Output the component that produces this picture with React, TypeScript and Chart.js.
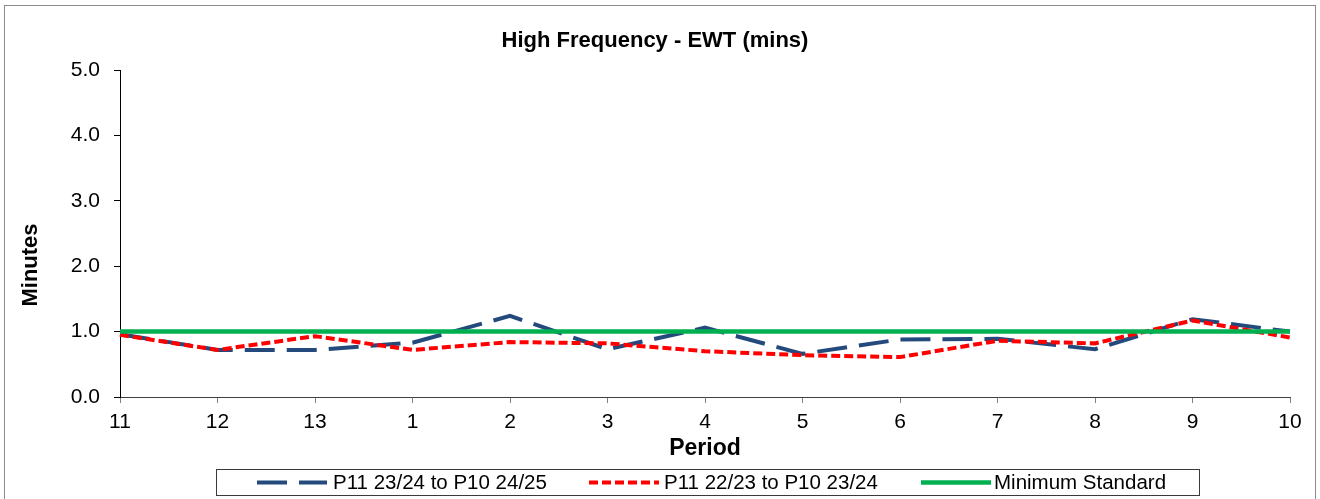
import { useEffect, useRef } from 'react';
import { Chart, registerables } from 'chart.js';

Chart.register(...registerables);

const periods = ['11', '12', '13', '1', '2', '3', '4', '5', '6', '7', '8', '9', '10'];
const current = [0.96, 0.72, 0.72, 0.83, 1.24, 0.73, 1.06, 0.66, 0.88, 0.89, 0.73, 1.19, 1.0];
const previous = [0.95, 0.72, 0.93, 0.72, 0.84, 0.82, 0.7, 0.64, 0.61, 0.86, 0.82, 1.17, 0.91];
const minStandard = [1.0, 1.0, 1.0, 1.0, 1.0, 1.0, 1.0, 1.0, 1.0, 1.0, 1.0, 1.0, 1.0];

const seriesNames = ['P11 23/24 to P10 24/25', 'P11 22/23 to P10 23/24', 'Minimum Standard'];
const chartTitle = 'High Frequency - EWT (mins)';
const yTitle = 'Minutes';
const xTitle = 'Period';

const FONT = '"Liberation Sans", Arial, sans-serif';
const BLUE = '#244a7d';
const RED = '#ff0000';
const GREEN = '#00b050';

// title, rotated axis title, legend box and outer frame drawn like the Excel original
const decorations = {
  id: 'decorations',
  afterDraw(chart: Chart) {
    const ctx = chart.ctx;
    ctx.save();

    ctx.strokeStyle = '#8c8c8c';
    ctx.lineWidth = 1;
    ctx.strokeRect(4.5, 5.5, 1311, 600);

    ctx.fillStyle = '#000';
    ctx.font = `bold 22px ${FONT}`;
    ctx.textAlign = 'center';
    ctx.textBaseline = 'alphabetic';
    ctx.fillText(chartTitle, 655, 47);

    ctx.save();
    ctx.translate(37, 265);
    ctx.rotate(-Math.PI / 2);
    ctx.fillText(yTitle, 0, 0);
    ctx.restore();

    ctx.strokeStyle = '#3a3a3a';
    ctx.strokeRect(216.5, 469.5, 983, 26);

    const items = [
      { x: 257, text: 333, color: BLUE, dash: [30, 12], width: 4 },
      { x: 589, text: 664, color: RED, dash: [9, 4], width: 4 },
      { x: 921, text: 994, color: GREEN, dash: [], width: 4.5 },
    ];
    const ly = 482.5;
    ctx.font = `20.5px ${FONT}`;
    ctx.textAlign = 'left';
    ctx.textBaseline = 'middle';
    items.forEach((it, i) => {
      ctx.beginPath();
      ctx.setLineDash(it.dash);
      ctx.strokeStyle = it.color;
      ctx.lineWidth = it.width;
      ctx.moveTo(it.x, ly);
      ctx.lineTo(it.x + 70, ly);
      ctx.stroke();
      ctx.setLineDash([]);
      ctx.fillStyle = '#000';
      ctx.fillText(seriesNames[i], it.text, ly + 1);
    });

    ctx.restore();
  },
};

export default function App() {
  const canvasRef = useRef<HTMLCanvasElement>(null);
  const chartRef = useRef<Chart | null>(null);

  useEffect(() => {
    document.body.style.margin = '0';
    if (!canvasRef.current) return;
    chartRef.current?.destroy();

    chartRef.current = new Chart(canvasRef.current, {
      type: 'line',
      data: {
        labels: periods,
        datasets: [
          {
            label: seriesNames[0],
            data: current,
            borderColor: BLUE,
            borderWidth: 4,
            borderDash: [30, 12],
            pointRadius: 0,
            tension: 0,
            order: 3,
          },
          {
            label: seriesNames[1],
            data: previous,
            borderColor: RED,
            borderWidth: 4,
            borderDash: [9, 4],
            pointRadius: 0,
            tension: 0,
            order: 2,
          },
          {
            label: seriesNames[2],
            data: minStandard,
            borderColor: GREEN,
            borderWidth: 4.5,
            pointRadius: 0,
            tension: 0,
            order: 1,
          },
        ],
      },
      options: {
        responsive: false,
        animation: false,
        layout: { padding: { left: 10, right: 30, top: 70, bottom: 34 } },
        plugins: {
          legend: { display: false },
          title: { display: false },
          tooltip: { enabled: false },
        },
        scales: {
          x: {
            type: 'category',
            offset: false,
            afterFit: (s) => { s.height = 68; },
            grid: { drawOnChartArea: false, tickLength: 6, color: '#808080', offset: false },
            border: { color: '#404040', width: 1 },
            ticks: { color: '#000', font: { family: FONT, size: 21 }, padding: 7, maxRotation: 0, autoSkip: false },
            title: {
              display: true,
              text: xTitle,
              color: '#000',
              font: { family: FONT, size: 23, weight: 'bold' },
              padding: { top: 0, bottom: 3 },
            },
          },
          y: {
            min: 0,
            max: 5,
            afterFit: (s) => { s.width = 110; },
            grid: { drawOnChartArea: false, tickLength: 6, color: '#000' },
            border: { color: '#000', width: 1 },
            ticks: {
              stepSize: 1,
              color: '#000',
              padding: 14,
              font: { family: FONT, size: 21 },
              callback: (v) => Number(v).toFixed(1),
            },
          },
        },
      },
      plugins: [decorations],
    });

    return () => {
      chartRef.current?.destroy();
      chartRef.current = null;
    };
  }, []);

  return (
    <div style={{ position: 'relative', width: 1320, height: 499, background: '#fff' }}>
      <canvas ref={canvasRef} width={1320} height={499} style={{ width: 1320, height: 499 }} />
    </div>
  );
}
